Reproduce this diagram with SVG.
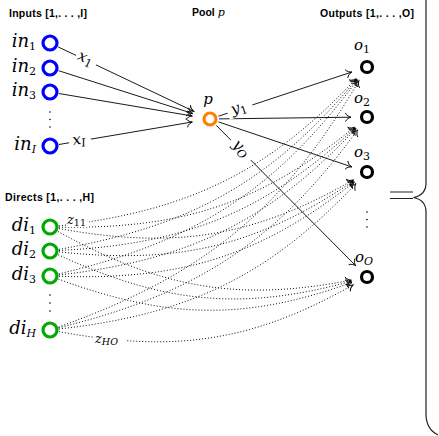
<svg xmlns="http://www.w3.org/2000/svg" width="439" height="436" viewBox="0 0 439 436">
<defs>
<marker id="to" viewBox="-7 -5 8 10" markerWidth="8" markerHeight="10" refX="0" refY="0" orient="auto" markerUnits="userSpaceOnUse" overflow="visible">
<path d="M -5.5 -4 C -4.5 -1.6, -1.5 -0.4, 0 0 C -1.5 0.4, -4.5 1.6, -5.5 4" fill="none" stroke="#000" stroke-width="0.9" stroke-linecap="round"/>
</marker>
<style>
.hdr{font-family:"Liberation Sans",Arial,sans-serif;font-size:10.5px;font-weight:bold;fill:#000}
.m{font-family:"DejaVu Serif",serif;font-style:italic;fill:#000}
.big{font-size:18px}
.mid{font-size:15px}
.sm{font-size:13px}
.up{font-style:normal}
.s{font-size:11px}
.s2{font-size:9.5px}
.inp{fill:#fff;stroke:#0000ff;stroke-width:3.2}
.dir{fill:#fff;stroke:#00aa00;stroke-width:3.2}
.out{fill:#fff;stroke:#000;stroke-width:3.2}
.pool{fill:#fff;stroke:#ff8000;stroke-width:3.2}
.e{fill:none;stroke:#000;stroke-width:0.9;marker-end:url(#to)}
.d{fill:none;stroke:#000;stroke-width:0.95;stroke-dasharray:1 2;marker-end:url(#to)}
.bg{fill:#fff}
.dot{fill:#000}
</style>
</defs>
<rect width="439" height="436" fill="#fff"/>

<!-- headers -->
<text class="hdr" x="9" y="17" textLength="78">Inputs [1,. . . ,I]</text>
<text class="hdr" x="192" y="16">Pool <tspan class="m" font-weight="normal" font-size="11px">p</tspan></text>
<text class="hdr" x="320" y="17" textLength="94">Outputs [1,. . . ,O]</text>
<text class="hdr" x="5" y="201" textLength="89">Directs [1,. . . ,H]</text>

<!-- connectors -->
<g id="connectors">
<g id="dotted">
<path class="d" d="M58.9,225.9 C187.8,210.6 267.1,173.3 356.0,78.7"/>
<path class="d" d="M59.0,227.1 C181.2,229.0 259.8,204.2 354.6,127.1"/>
<path class="d" d="M58.9,228.6 C173.8,249.2 251.9,238.1 353.1,180.0"/>
<path class="d" d="M57.9,231.4 C159.7,287.8 237.1,302.4 351.3,280.1"/>
<path class="d" d="M58.9,249.4 C191.1,225.8 270.6,182.4 356.7,79.3"/>
<path class="d" d="M59.0,250.5 C184.3,244.1 263.4,213.4 355.3,127.9"/>
<path class="d" d="M59.0,251.9 C177.0,264.3 255.3,247.3 353.7,180.9"/>
<path class="d" d="M58.2,254.8 C163.0,303.0 240.4,311.6 351.6,281.2"/>
<path class="d" d="M58.8,273.9 C194.5,241.6 274.3,191.8 357.5,79.8"/>
<path class="d" d="M58.9,275.0 C187.7,260.0 267.0,222.9 356.0,128.6"/>
<path class="d" d="M59.0,276.3 C180.3,280.2 259.0,256.9 354.4,181.9"/>
<path class="d" d="M58.4,279.1 C166.2,318.7 243.9,321.4 352.0,282.4"/>
<path class="d" d="M58.5,327.0 C201.7,275.8 282.1,212.1 358.9,80.8"/>
<path class="d" d="M58.7,327.8 C194.9,294.1 274.9,243.3 357.6,129.9"/>
<path class="d" d="M58.9,329.0 C187.6,314.4 266.9,277.5 356.0,183.6"/>
<path class="d" d="M58.85,331.6 C173.6,352.9 251.5,342.3 353.1,284.9"/>
</g>
<g id="solid">
<path class="e" d="M58.1,46.9 L193.7,111.3"/>
<path class="e" d="M58.6,70.7 L192.8,113.5"/>
<path class="e" d="M58.9,93.5 L192.3,116.0"/>
<path class="e" d="M58.9,144.5 L192.3,122.0"/>
<path class="e" d="M218.5,116.2 L351.8,72.0"/>
<path class="e" d="M219,118.9 L351,117.2"/>
<path class="e" d="M218.5,121.9 L351.8,166.9"/>
<path class="e" d="M216.3,125.4 L355.7,265.7"/>
</g>
<g id="edge-labels">
<g transform="translate(86,60) rotate(25.4)"><rect class="bg" x="-11" y="-7" width="22" height="13"/><text class="m mid" x="-1" y="3" text-anchor="middle">x<tspan class="up s" dy="3">1</tspan></text></g>
<g transform="translate(80,141) rotate(-9.6)"><rect class="bg" x="-11" y="-7" width="22" height="13"/><text class="m mid" x="-1" y="3" text-anchor="middle">x<tspan class="s" dy="3">I</tspan></text></g>
<g transform="translate(240,109) rotate(-18.3)"><rect class="bg" x="-13" y="-7" width="26" height="14"/><text class="m mid" x="-1" y="3" text-anchor="middle">y<tspan class="up s" dy="3">1</tspan></text></g>
<g transform="translate(241,150) rotate(45.2)"><rect class="bg" x="-14" y="-7" width="28" height="14"/><text class="m mid" x="-1" y="3" text-anchor="middle">y<tspan class="s" dy="3">O</tspan></text></g>
<rect class="bg" x="66" y="215" width="23" height="12"/>
<text class="m sm" x="67" y="224">z<tspan class="up s2" dy="2">11</tspan></text>
<rect class="bg" x="93" y="334" width="33" height="14"/>
<text class="m sm" x="95" y="343">z<tspan class="s2" dy="2">HO</tspan></text>
</g>
</g>

<!-- input nodes -->
<g id="in1"><circle class="inp" cx="50" cy="43" r="7"/><text class="m big" x="36" y="47" text-anchor="end">in<tspan class="up s" dy="3">1</tspan></text></g>
<g id="in2"><circle class="inp" cx="50" cy="68" r="7"/><text class="m big" x="36" y="72" text-anchor="end">in<tspan class="up s" dy="3">2</tspan></text></g>
<g id="in3"><circle class="inp" cx="50" cy="92" r="7"/><text class="m big" x="36" y="96" text-anchor="end">in<tspan class="up s" dy="3">3</tspan></text></g>
<g id="inI"><circle class="inp" cx="50" cy="146" r="7"/><text class="m big" x="36" y="150" text-anchor="end">in<tspan class="s" dy="3">I</tspan></text></g>
<g id="in-dots"><circle class="dot" cx="50" cy="112" r="0.8"/><circle class="dot" cx="50" cy="119.5" r="0.8"/><circle class="dot" cx="50" cy="127" r="0.8"/></g>

<!-- pool -->
<g id="pool"><circle class="pool" cx="210" cy="119" r="6"/><text class="m mid" x="208" y="104" text-anchor="middle">p</text></g>

<!-- outputs -->
<g id="o1"><circle class="out" cx="367" cy="67" r="5.5"/><text class="m mid" x="362" y="50" text-anchor="middle">o<tspan class="up s" dy="3">1</tspan></text></g>
<g id="o2"><circle class="out" cx="367" cy="117" r="5.5"/><text class="m mid" x="362" y="103" text-anchor="middle">o<tspan class="up s" dy="3">2</tspan></text></g>
<g id="o3"><circle class="out" cx="367" cy="172" r="5.5"/><text class="m mid" x="362" y="157" text-anchor="middle">o<tspan class="up s" dy="3">3</tspan></text></g>
<g id="oO"><circle class="out" cx="367" cy="277" r="5.5"/><text class="m mid" x="364" y="262" text-anchor="middle">o<tspan class="s" dy="3">O</tspan></text></g>
<g id="out-dots"><circle class="dot" cx="367" cy="212" r="0.8"/><circle class="dot" cx="367" cy="219.5" r="0.8"/><circle class="dot" cx="367" cy="227" r="0.8"/></g>

<!-- directs -->
<g id="di1"><circle class="dir" cx="50" cy="227" r="7"/><text class="m big" x="36" y="231" text-anchor="end">di<tspan class="up s" dy="3">1</tspan></text></g>
<g id="di2"><circle class="dir" cx="50" cy="251" r="7"/><text class="m big" x="36" y="255" text-anchor="end">di<tspan class="up s" dy="3">2</tspan></text></g>
<g id="di3"><circle class="dir" cx="50" cy="276" r="7"/><text class="m big" x="36" y="280" text-anchor="end">di<tspan class="up s" dy="3">3</tspan></text></g>
<g id="diH"><circle class="dir" cx="50" cy="330" r="7"/><text class="m big" x="36" y="334" text-anchor="end">di<tspan class="s" dy="3">H</tspan></text></g>
<g id="di-dots"><circle class="dot" cx="50" cy="295" r="0.8"/><circle class="dot" cx="50" cy="303" r="0.8"/><circle class="dot" cx="50" cy="311" r="0.8"/></g>

<!-- brace and equals -->
<g id="brace" fill="none" stroke="#222" stroke-width="1.2">
<path d="M426,0 L426,183 C426,191 421,196 413.5,197.5 C421,199 426,204 426,212 L426,414 C426,424 430,431 438,435"/>
<path d="M390,192 L413,192 M390,198.5 L413,198.5"/>
</g>
</svg>
